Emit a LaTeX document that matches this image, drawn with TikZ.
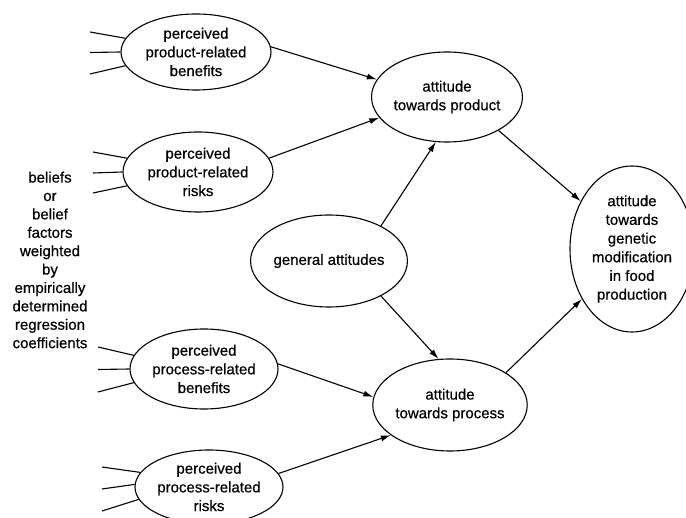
\documentclass[tikz,border=0pt]{standalone}
\usepackage{fontspec}
\setmainfont{Liberation Sans}[FakeBold=0.5]
\usetikzlibrary{shapes.geometric,arrows.meta}
\begin{document}
\begin{tikzpicture}[x=1pt,y=-1pt,
  bub/.style={draw,ellipse,line width=1.1pt,inner sep=0pt,align=center,
    font=\fontsize{15}{18.7}\selectfont},
  arr/.style={line width=1.1pt,-{Latex[length=10pt,width=6pt]}},
  feed/.style={line width=1.1pt}]
\path[use as bounding box,fill=white] (0,0) rectangle (686,518);
\clip (0,0) rectangle (686,518);

\node[bub,minimum width=150pt,minimum height=76pt] (pdb) at (196,52) {perceived\\product-related\\benefits};
\node[bub,minimum width=150pt,minimum height=80pt] (pdr) at (198,172) {perceived\\product-related\\risks};
\node[bub,minimum width=148pt,minimum height=80pt] (psb) at (204,369) {perceived\\process-related\\benefits};
\node[bub,minimum width=148pt,minimum height=74pt] (psr) at (209,487) {perceived\\process-related\\risks};
\node[bub,minimum width=140pt,minimum height=90pt] (apd) at (447,97) {attitude\\towards product};
\node[bub,minimum width=148pt,minimum height=92pt] (gen) at (329,261) {general attitudes};
\node[bub,minimum width=136pt,minimum height=92pt] (aps) at (450,405) {attitude\\towards process};
\node[bub,minimum width=124pt,minimum height=166pt] (fin) at (632,249) {attitude\\towards\\genetic\\modification\\in food\\production};

\node[align=center,font=\fontsize{15}{18.4}\selectfont] (bel) at (50,260) {beliefs\\or\\belief\\factors\\weighted\\by\\empirically\\determined\\regression\\coefficients};

% free ends of the belief lines
\coordinate (a1) at (90,32);  \coordinate (a2) at (90,52.5);  \coordinate (a3) at (90,74);
\coordinate (b1) at (93,152); \coordinate (b2) at (93,173); \coordinate (b3) at (93,193);
\coordinate (c1) at (98,347); \coordinate (c2) at (98,369.5); \coordinate (c3) at (98,392);
\coordinate (d1) at (102,467);\coordinate (d2) at (102,489);\coordinate (d3) at (102,511);

\draw[feed] (a1) -- (pdb.169); \draw[feed] (a2) -- (pdb.180); \draw[feed] (a3) -- (pdb.191);
\draw[feed] (b1) -- (pdr.169); \draw[feed] (b2) -- (pdr.180); \draw[feed] (b3) -- (pdr.191);
\draw[feed] (c1) -- (psb.169); \draw[feed] (c2) -- (psb.180); \draw[feed] (c3) -- (psb.191);
\draw[feed] (d1) -- (psr.168); \draw[feed] (d2) -- (psr.178); \draw[feed] (d3) -- (psr.190);

\draw[arr] (pdb.4) -- (apd.166);
\draw[arr] (pdr.11) -- (apd.197);
\draw[arr] (gen.34) -- (apd.256);
\draw[arr] (gen.-34) -- (aps.104);
\draw[arr] (psb.4) -- (aps.174);
\draw[arr] (psr.11) -- (aps.207);
\draw[arr] (apd.-33) -- (fin.137);
\draw[arr] (aps.30) -- (fin.225);
\end{tikzpicture}
\end{document}
